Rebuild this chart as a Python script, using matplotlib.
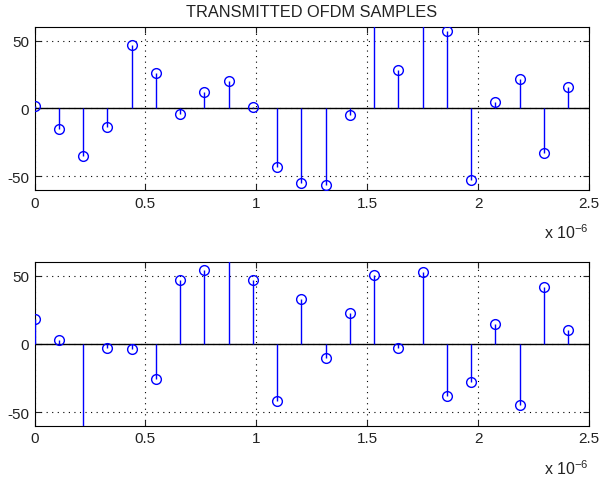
import numpy as np
import matplotlib
matplotlib.use("Agg")
import matplotlib.pyplot as plt
from matplotlib.ticker import FuncFormatter

# sample period (s) and sample index
dt = 0.109375e-6
n_samples = 23

# values; points beyond +-60 are clipped in the original
top_values = [2, -15, -35, -14, 47, 26, -4, 12, 20, 1, -43, -55, -56, -5,
              75, 28, 70, 57, -53, 5, 22, -33, 16]
bottom_values = [18, 3, -70, -3, -4, -26, 47, 54, 65, 47, -42, 33, -10, 23,
                 51, -3, 53, -38, -28, 15, -45, 42, 10]

x_ticks = [0, 0.5e-6, 1e-6, 1.5e-6, 2e-6, 2.5e-6]
y_ticks = [-50, 0, 50]

plt.rcParams["font.family"] = ["Liberation Sans", "DejaVu Sans"]
plt.rcParams["font.size"] = 11
plt.rcParams["mathtext.default"] = "regular"

t = np.arange(n_samples) * dt


def _fmt_x(v, pos):
    return f"{v / 1e-6:g}"


def _fmt_y(v, pos):
    return f"{v:g}".replace("\u2212", "-")


def draw_stem(ax, values):
    ax.axhline(0, color="black", lw=1.0, zorder=2)
    ax.vlines(t, 0, values, color="blue", lw=1.0, zorder=3)
    ax.plot(t, values, "o", mfc="none", mec="blue", ms=7, mew=1.0, zorder=4)
    ax.set_xlim(0, 2.5e-6)
    ax.set_ylim(-60, 60)
    ax.set_xticks(x_ticks)
    ax.set_yticks(y_ticks)
    ax.xaxis.set_major_formatter(FuncFormatter(_fmt_x))
    ax.yaxis.set_major_formatter(FuncFormatter(_fmt_y))
    ax.grid(True, color="black", ls=(0, (1, 4)), lw=0.8)
    ax.tick_params(direction="in", top=True, right=True, length=4,
                   labelsize=11, pad=4, colors="#222222", labelcolor="#222222")
    for s in ax.spines.values():
        s.set_linewidth(0.8)
    ax.text(1.0, -0.2, "x 10$^{-6}$", transform=ax.transAxes,
            ha="right", va="top", fontsize=11.5, color="#222222")


fig = plt.figure(figsize=(6.0, 4.81), dpi=100)
ax1 = fig.add_axes([0.0575, 0.6029, 0.924, 0.339])
ax2 = fig.add_axes([0.0575, 0.1129, 0.924, 0.3397])

draw_stem(ax1, top_values)
draw_stem(ax2, bottom_values)
ax1.set_title("TRANSMITTED OFDM SAMPLES", fontsize=11.8, pad=8,
              color="#222222")

fig.savefig("out.png", dpi=100)
